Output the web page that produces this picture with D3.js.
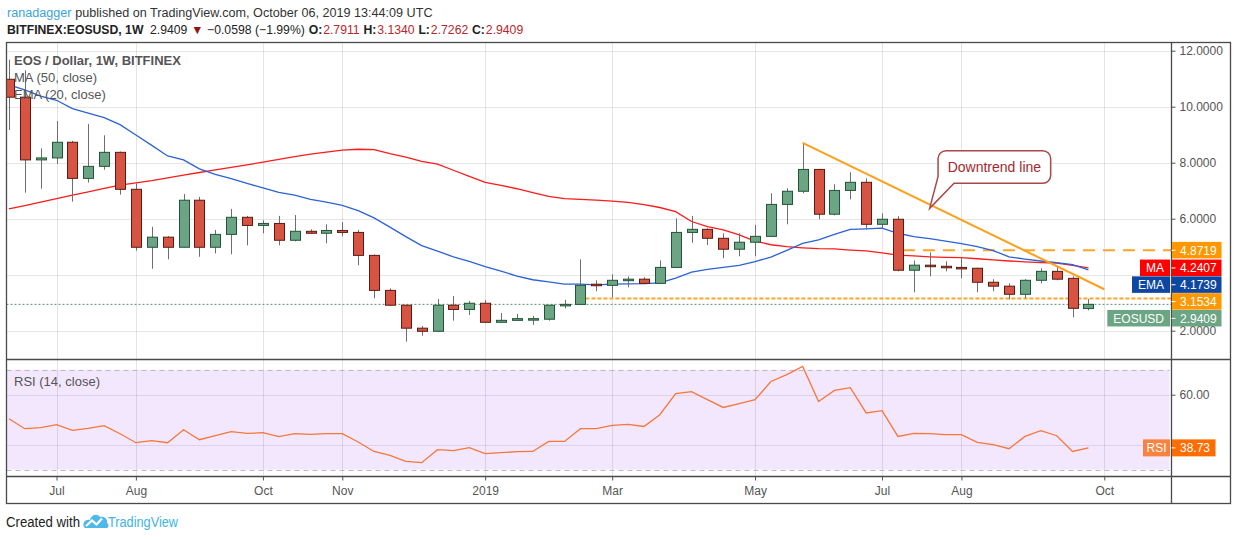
<!DOCTYPE html>
<html><head><meta charset="utf-8">
<script src="https://cdn.jsdelivr.net/npm/d3@7"></script>
<style>
body{margin:0;background:#fff;}
svg{display:block;font-family:"Liberation Sans",Arial,sans-serif;}
</style></head><body>
<svg id="c" width="1234" height="540"></svg>
<script>
// ---------- DATA ----------
const firstWeek = "2018-06-11";   // first weekly bar (Monday)
const lastWeek  = "2019-09-30";   // last weekly bar
const opens  = [10.98,10.34,8.10,8.17,8.73,7.44,7.87,8.37,7.05,4.98,5.34,4.98,6.66,4.98,5.44,6.05,5.76,5.83,5.23,5.55,5.48,5.58,5.51,4.69,3.44,2.91,2.09,1.98,2.91,2.76,2.98,2.30,2.37,2.42,2.41,2.91,2.94,3.66,3.62,3.80,3.84,3.69,4.26,5.51,5.62,5.30,4.91,5.16,5.37,6.51,6.98,7.76,6.16,7.01,7.30,5.80,5.98,4.16,4.34,4.30,4.26,4.23,3.73,3.59,3.30,3.80,4.12,3.87,2.7911];
const highs  = [11.68,11.30,8.51,9.49,8.78,9.38,8.98,8.40,7.26,5.71,5.38,6.88,6.78,5.60,6.35,6.10,5.94,6.10,6.13,5.62,5.80,5.88,5.60,4.72,3.51,2.93,2.17,3.13,3.24,3.06,3.10,2.63,2.60,2.53,2.91,3.10,4.55,3.80,4.01,3.94,3.91,4.51,6.01,6.10,5.66,5.48,5.48,5.78,6.91,7.09,8.71,7.78,7.23,7.66,7.44,6.19,6.09,4.51,4.80,4.48,4.62,4.25,3.84,3.69,3.84,4.23,4.30,3.94,3.1340];
const lows   = [9.17,6.93,7.07,7.96,6.61,7.29,7.75,6.86,4.86,4.21,4.55,4.98,4.64,4.76,4.73,5.05,5.48,5.05,5.19,5.45,5.12,5.37,4.34,3.16,2.88,1.61,1.82,1.97,2.36,2.56,2.28,2.28,2.35,2.21,2.36,2.80,2.93,3.41,3.19,3.55,3.66,3.68,4.24,5.14,5.06,4.59,4.66,4.66,5.36,5.80,6.91,5.98,6.12,6.69,5.62,5.66,4.12,3.37,3.94,4.12,3.87,3.37,3.41,3.12,3.16,3.69,3.80,2.48,2.7262];
const closes = [10.34,8.10,8.17,8.73,7.44,7.87,8.37,7.05,4.98,5.34,4.98,6.66,4.98,5.44,6.05,5.76,5.83,5.23,5.55,5.48,5.58,5.51,4.69,3.44,2.91,2.09,1.98,2.91,2.76,2.98,2.30,2.37,2.43,2.43,2.91,2.94,3.62,3.62,3.80,3.84,3.69,4.26,5.51,5.62,5.30,4.91,5.16,5.37,6.51,6.98,7.76,6.16,7.01,7.30,5.80,5.98,4.16,4.34,4.30,4.26,4.23,3.73,3.59,3.30,3.80,4.12,3.84,2.80,2.9409];
const ma50   = [6.35,6.47,6.59,6.72,6.84,6.96,7.08,7.20,7.28,7.36,7.46,7.56,7.65,7.74,7.83,7.92,8.02,8.12,8.22,8.31,8.38,8.45,8.48,8.47,8.32,8.20,8.05,7.95,7.73,7.51,7.30,7.19,7.07,6.93,6.80,6.72,6.69,6.66,6.63,6.58,6.50,6.40,6.25,5.90,5.72,5.60,5.42,5.20,5.07,5.00,4.96,4.93,4.92,4.88,4.85,4.78,4.70,4.67,4.64,4.62,4.61,4.57,4.53,4.49,4.46,4.43,4.41,4.33,4.2407];
const ema20  = [10.78,10.60,10.38,10.23,9.93,9.77,9.61,9.36,8.99,8.62,8.24,8.10,7.78,7.58,7.43,7.26,7.10,6.94,6.84,6.69,6.59,6.48,6.29,6.03,5.70,5.36,5.04,4.84,4.64,4.48,4.29,4.13,3.95,3.82,3.74,3.66,3.66,3.64,3.66,3.67,3.68,3.71,3.88,4.09,4.19,4.26,4.33,4.47,4.63,4.87,5.12,5.24,5.44,5.62,5.64,5.66,5.48,5.36,5.29,5.20,5.11,5.00,4.86,4.64,4.56,4.49,4.43,4.36,4.1739];
const rsi14  = [50.4,46.4,46.8,48.0,45.7,46.5,47.6,44.4,40.8,41.6,40.8,46.0,42.0,43.6,45.2,44.5,44.8,43.2,44.4,44.1,44.4,44.4,41.1,37.3,35.7,33.3,32.8,38.0,37.6,38.8,36.4,36.8,37.2,37.3,41.3,41.3,46.4,46.4,47.7,48.1,47.3,52.0,60.4,61.2,58.0,54.9,56.4,58.0,65.3,68.0,71.3,57.3,61.7,62.8,52.7,53.6,43.3,44.5,44.4,44.0,44.0,40.9,40.0,38.4,43.3,45.6,43.6,37.3,38.73];

const timeTickDates  = ["2018-07-02","2018-08-06","2018-10-01","2018-11-05","2019-01-07","2019-03-04","2019-05-06","2019-07-01","2019-08-05","2019-10-07"];
const timeTickLabels = ["Jul","Aug","Oct","Nov","2019","Mar","May","Jul","Aug","Oct"];
const priceGridValues  = [2,4,6,8,10,12];
const priceTickValues  = [2,6,8,10,12];
const rsiGridValues = [40,60];
const rsiBandValues = [30,70];
const rsiTickValues = [60];

const resistanceLevel = {value: 4.8719, from: "2019-07-08"};
const supportLevel    = {value: 3.1534, from: "2019-02-18"};
const trendLine = [{date:"2019-05-27", value:8.71},{date:"2019-10-07", value:3.48}];
const calloutAnchor = {date:"2019-07-22", value:6.37, text:"Downtrend line"};
const lastPrice = 2.9409;

const headerLine1 = [{t:"ranadagger", c:"#3aa3de"},{t:"published on TradingView.com, October 06, 2019 13:44:09 UTC", c:"#333"}];
const headerLine2 = [
  {t:"BITFINEX:EOSUSD, 1W", c:"#222", b:true, g:0},
  {t:"2.9409", c:"#222", g:7},
  {t:"▼", c:"#8e1515", g:4},
  {t:"−0.0598 (−1.99%)", c:"#222", g:4},
  {t:"O:", c:"#222", b:true, g:4},{t:"2.7911", c:"#b8262b", g:1},
  {t:"H:", c:"#222", b:true, g:4},{t:"3.1340", c:"#b8262b", g:1},
  {t:"L:", c:"#222", b:true, g:4},{t:"2.7262", c:"#b8262b", g:1},
  {t:"C:", c:"#222", b:true, g:4},{t:"2.9409", c:"#b8262b", g:1}
];

// ---------- SETUP ----------
const P = d3.utcParse("%Y-%m-%d");
const dates = d3.utcMonday.range(P(firstWeek), d3.utcDay.offset(P(lastWeek),1));
const bars = dates.map((d,i)=>({date:d,o:opens[i],h:highs[i],l:lows[i],c:closes[i],ma:ma50[i],ema:ema20[i],rsi:rsi14[i]}));

const F = {l:6.5, r:1230.5, t:42.5, b:503.5};
const axisX = 1171.5, mainB = 359.5, rsiB = 476.5;

const x = d3.scaleUtc().domain([P(firstWeek), P("2019-10-07")]).range([8.9, 1104.3]);
const y = d3.scaleLinear().domain([2,12]).range([330.7,50.7]);
const yR = d3.scaleLinear().domain([30,70]).range([469.7,369.7]);
const bodyW = 10;

const svg = d3.select("#c");
svg.append("rect").attr("width",1234).attr("height",540).attr("fill","#fff");

const defs = svg.append("defs");
defs.append("clipPath").attr("id","mainClip").append("rect")
  .attr("x",F.l+0.5).attr("y",F.t+0.5).attr("width",axisX-F.l-1).attr("height",mainB-F.t-1);
defs.append("clipPath").attr("id","rsiClip").append("rect")
  .attr("x",F.l+0.5).attr("y",mainB+0.5).attr("width",axisX-F.l-1).attr("height",rsiB-mainB-1);

// RSI band
svg.append("rect").attr("x",F.l).attr("y",yR(rsiBandValues[1])).attr("width",axisX-2-F.l)
  .attr("height",yR(rsiBandValues[0])-yR(rsiBandValues[1])).attr("fill","#f3e7fd");

// grid
const grid = svg.append("g");
grid.selectAll(".hg").data(priceGridValues).join("line")
  .attr("x1",F.l).attr("x2",axisX).attr("y1",d=>Math.round(y(d))+0.5).attr("y2",d=>Math.round(y(d))+0.5)
  .attr("stroke","#e6e6e6");
grid.selectAll(".vg").data(timeTickDates).join("line")
  .attr("x1",d=>Math.round(x(P(d)))+0.5).attr("x2",d=>Math.round(x(P(d)))+0.5)
  .attr("y1",F.t).attr("y2",rsiB).attr("stroke","rgba(0,0,0,0.1)");
grid.selectAll(".rg").data(rsiGridValues).join("line")
  .attr("x1",F.l).attr("x2",axisX).attr("y1",d=>Math.round(yR(d))+0.5).attr("y2",d=>Math.round(yR(d))+0.5)
  .attr("stroke","rgba(80,40,120,0.12)");
grid.selectAll(".rb").data(rsiBandValues).join("line")
  .attr("x1",F.l).attr("x2",axisX-2).attr("y1",d=>Math.round(yR(d))+0.5).attr("y2",d=>Math.round(yR(d))+0.5)
  .attr("stroke","#bdb6c4").attr("stroke-dasharray","5,4");

// ---------- MAIN PANE ----------
const main = svg.append("g").attr("clip-path","url(#mainClip)");

main.append("line").attr("x1",F.l).attr("x2",axisX).attr("y1",y(lastPrice)).attr("y2",y(lastPrice))
  .attr("stroke","#5b8f76").attr("stroke-dasharray","2,2");

main.append("line").attr("x1",x(P(supportLevel.from))+bodyW/2).attr("x2",axisX)
  .attr("y1",y(supportLevel.value)).attr("y2",y(supportLevel.value))
  .attr("stroke","#ffa526").attr("stroke-width",2).attr("stroke-dasharray","4,2");
main.append("line").attr("x1",x(P(resistanceLevel.from))+bodyW/2).attr("x2",axisX)
  .attr("y1",y(resistanceLevel.value)).attr("y2",y(resistanceLevel.value))
  .attr("stroke","#ffa526").attr("stroke-width",2).attr("stroke-dasharray","12,8");

const lineMA = d3.line().x(d=>x(d.date)).y(d=>y(d.ma));
const lineEMA = d3.line().x(d=>x(d.date)).y(d=>y(d.ema));
main.append("path").datum(bars).attr("d",lineMA).attr("fill","none").attr("stroke","#ff1a1a").attr("stroke-width",1.3);
main.append("path").datum(bars).attr("d",lineEMA).attr("fill","none").attr("stroke","#2c62d4").attr("stroke-width",1.3);

const cand = main.append("g").selectAll("g").data(bars).join("g");
cand.append("line")
  .attr("x1",d=>Math.round(x(d.date))+0.5).attr("x2",d=>Math.round(x(d.date))+0.5)
  .attr("y1",d=>y(d.h)).attr("y2",d=>y(d.l)).attr("stroke","#6e6e6e").attr("stroke-width",1);
cand.append("rect")
  .attr("x",d=>Math.round(x(d.date))-bodyW/2+0.5)
  .attr("width",bodyW)
  .attr("y",d=>y(Math.max(d.o,d.c)))
  .attr("height",d=>Math.max(1.5,Math.abs(y(d.o)-y(d.c))))
  .attr("fill",d=>d.c>=d.o?"#6ba583":"#d75442")
  .attr("stroke",d=>d.c>=d.o?"#225437":"#5b1a13").attr("stroke-width",1);

main.append("path").datum(trendLine)
  .attr("d",d3.line().x(d=>x(P(d.date))).y(d=>y(d.value)))
  .attr("stroke","#ff9f1a").attr("stroke-width",2).attr("fill","none");

// callout
{
  const tx = x(P(calloutAnchor.date)), ty = y(calloutAnchor.value);
  const bx = tx+8.4, by = ty-57.6, w = 112.6, h = 32.6, r = 8;
  const p = d3.path();
  p.moveTo(bx+r,by); p.lineTo(bx+w-r,by); p.arcTo(bx+w,by,bx+w,by+r,r);
  p.lineTo(bx+w,by+h-r); p.arcTo(bx+w,by+h,bx+w-r,by+h,r);
  p.lineTo(bx+16,by+h); p.lineTo(tx,ty); p.lineTo(bx,by+h-7);
  p.lineTo(bx,by+r); p.arcTo(bx,by,bx+r,by,r); p.closePath();
  svg.append("path").attr("d",p.toString()).attr("fill","#fff").attr("stroke","#a84848").attr("stroke-width",1.5);
  svg.append("text").attr("x",bx+w/2).attr("y",by+h/2+5).attr("text-anchor","middle")
    .attr("font-size",14).attr("fill","#a5282c").text(calloutAnchor.text);
}

// ---------- RSI PANE ----------
svg.append("g").attr("clip-path","url(#rsiClip)").append("path").datum(bars)
  .attr("d",d3.line().x(d=>x(d.date)).y(d=>yR(d.rsi)))
  .attr("fill","none").attr("stroke","#f5773a").attr("stroke-width",1.3);

// ---------- FRAME ----------
const fr = svg.append("g").attr("stroke","#4a4a4a").attr("stroke-width",1.3).attr("fill","none");
fr.append("rect").attr("x",F.l).attr("y",F.t).attr("width",F.r-F.l).attr("height",F.b-F.t);
fr.append("line").attr("x1",axisX).attr("x2",axisX).attr("y1",F.t).attr("y2",F.b);
fr.append("line").attr("x1",F.l).attr("x2",F.r).attr("y1",mainB).attr("y2",mainB);
fr.append("line").attr("x1",F.l).attr("x2",F.r).attr("y1",rsiB).attr("y2",rsiB);

// ---------- AXES ----------
function styleAxis(g){
  g.select(".domain").remove();
  g.selectAll("line").attr("stroke","#555");
  g.selectAll("text").attr("fill","#555").attr("font-size",12).attr("font-family","Liberation Sans, Arial, sans-serif");
}
svg.append("g").attr("transform",`translate(${axisX},0)`)
  .call(d3.axisRight(y).tickValues(priceTickValues).tickFormat(d3.format(".4f")).tickSize(4).tickPadding(4))
  .call(styleAxis);
svg.append("g").attr("transform",`translate(${axisX},0)`)
  .call(d3.axisRight(yR).tickValues(rsiTickValues).tickFormat(d3.format(".2f")).tickSize(4).tickPadding(4))
  .call(styleAxis);
svg.append("g").attr("transform",`translate(0,${rsiB})`)
  .call(d3.axisBottom(x).tickValues(timeTickDates.map(P)).tickFormat((d,i)=>timeTickLabels[i]).tickSize(4).tickPadding(6))
  .call(styleAxis);

// ---------- PRICE LABELS ----------
const priceLabels = [
  {value:resistanceLevel.value, name:null, color:"#ff9800"},
  {value:ma50[ma50.length-1], name:"MA", color:"#ff0000"},
  {value:ema20[ema20.length-1], name:"EMA", color:"#0d47a1"},
  {value:supportLevel.value, name:null, color:"#ff9800"},
  {value:lastPrice, name:"EOSUSD", color:"#6ba583"}
];
const lh = 16.8;
let prev = -1e9;
priceLabels.forEach(d=>{ d.yy = Math.max(y(d.value), prev+lh); prev = d.yy; });
const pl = svg.append("g");
priceLabels.forEach(d=>{
  pl.append("rect").attr("x",axisX+0.5).attr("y",d.yy-lh/2).attr("width",49.5).attr("height",lh-0.3).attr("fill",d.color);
  pl.append("line").attr("x1",axisX).attr("x2",axisX+4).attr("y1",d.yy).attr("y2",d.yy).attr("stroke","#fff");
  pl.append("text").attr("x",axisX+8.5).attr("y",d.yy+4.3).attr("fill","#fff").attr("font-size",12).text(d3.format(".4f")(d.value));
  if(d.name){
    const t = pl.append("text").attr("y",d.yy+4.3).attr("fill","#fff").attr("font-size",12).text(d.name);
    const bw = t.node().getComputedTextLength()+12;
    pl.insert("rect","text:last-child").attr("x",axisX-1.5-bw).attr("y",d.yy-lh/2).attr("width",bw).attr("height",lh-0.3).attr("fill",d.color);
    t.attr("x",axisX-1.5-bw+6).raise();
  }
});
{
  const v = rsi14[rsi14.length-1], yy = yR(v), h = 17;
  pl.append("rect").attr("x",axisX+0.5).attr("y",yy-h/2).attr("width",43.5).attr("height",h).attr("fill","#ff6d00");
  pl.append("line").attr("x1",axisX).attr("x2",axisX+4).attr("y1",yy).attr("y2",yy).attr("stroke","#fff");
  pl.append("text").attr("x",axisX+8.5).attr("y",yy+4.3).attr("fill","#fff").attr("font-size",12).text(d3.format(".2f")(v));
  pl.append("rect").attr("x",axisX-28.5).attr("y",yy-h/2).attr("width",27).attr("height",h).attr("fill","#f9823f");
  pl.append("text").attr("x",axisX-15).attr("y",yy+4.3).attr("text-anchor","middle").attr("fill","#fff").attr("font-size",12).text("RSI");
}

// ---------- LEGENDS ----------
const lg = svg.append("g").attr("font-size",13).attr("fill","#555");
lg.append("text").attr("x",14).attr("y",64.5).attr("font-weight","bold").text("EOS / Dollar, 1W, BITFINEX");
lg.append("text").attr("x",14).attr("y",81.5).text("MA (50, close)");
lg.append("text").attr("x",14).attr("y",98.5).text("EMA (20, close)");
lg.append("text").attr("x",14).attr("y",385.5).text("RSI (14, close)");

// ---------- HEADER (separate text runs, fitted to reference width) ----------
function runLine(segs, x0, yb, targetW, baseSize){
  const g = svg.append("g");
  let size = baseSize;
  function layout(){
    g.selectAll("*").remove();
    let cx = x0;
    segs.forEach((s,i)=>{
      const gap = (s.g===undefined ? (i?0.3*size:0) : s.g*size/13);
      cx += gap;
      const t = g.append("text").attr("x",cx).attr("y",yb).attr("font-size",size)
        .attr("fill",s.c).attr("font-weight",s.b?"bold":"normal").text(s.t);
      cx += t.node().getComputedTextLength();
    });
    return cx - x0;
  }
  const w = layout();
  size = baseSize*targetW/w;
  layout();
}
runLine(headerLine1, 7, 16.5, 426, 13);
runLine(headerLine2, 7, 33.5, 517, 13);

// ---------- FOOTER ----------
svg.append("text").attr("x",6).attr("y",527).attr("font-size",14).attr("fill","#222")
  .attr("textLength",74).attr("lengthAdjust","spacingAndGlyphs").text("Created with");
{
  const g = svg.append("g").attr("transform","translate(83,513)");
  g.append("path").attr("d","M1,14 C-1,9 3,6 7,7 C8,2 14,0 17,4 C21,3 25,6 24,10 C26,11 26,14 24,15 L2,15 Z").attr("fill","#4cb9e8");
  g.append("path").attr("d","M3,13 L9,7.5 L13.5,11.5 L19,5.5").attr("stroke","#fff").attr("stroke-width",2.2).attr("fill","none");
}
svg.append("text").attr("x",108).attr("y",527).attr("font-size",14).attr("fill","#3eb3e5")
  .attr("textLength",70).attr("lengthAdjust","spacingAndGlyphs").text("TradingView");
</script>
</body></html>
